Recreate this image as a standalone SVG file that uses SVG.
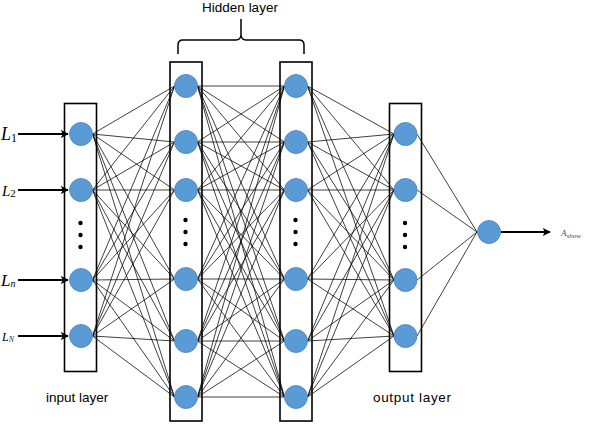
<svg xmlns="http://www.w3.org/2000/svg" width="590" height="424" viewBox="0 0 590 424">
<style>
.c{stroke:#000;stroke-width:0.75;fill:none}
.layer{fill:none;stroke:#000;stroke-width:1.6}
.n{fill:#5B9BD5;stroke:#4A83B8;stroke-width:0.8}
.dot{fill:#000}
.arr{stroke:#000;stroke-width:2;fill:none;marker-end:url(#ah)}
.lbl{font-family:"Liberation Sans",Arial,sans-serif;font-size:13.5px;fill:#000}
.L{font-family:"Liberation Serif","Times New Roman",serif;font-style:italic;fill:#000}
.sub{font-family:"Liberation Serif","Times New Roman",serif;fill:#000}
</style>
<defs>
<marker id="ah" viewBox="0 0 10 10" refX="9" refY="5" markerWidth="4" markerHeight="4" orient="auto" markerUnits="strokeWidth">
<path d="M0,0 L10,5 L0,10 L2.5,5 Z" fill="#000"/>
</marker>
</defs>
<rect width="590" height="424" fill="#fff"/>

<g id="connectors">
<g id="in-h1">
<line class="c" x1="92.5" y1="134" x2="174.5" y2="86"/><line class="c" x1="92.5" y1="134" x2="174.5" y2="142"/><line class="c" x1="92.5" y1="134" x2="174.5" y2="190"/><line class="c" x1="92.5" y1="134" x2="174.5" y2="279"/><line class="c" x1="92.5" y1="134" x2="174.5" y2="341"/><line class="c" x1="92.5" y1="134" x2="174.5" y2="397"/>
<line class="c" x1="92.5" y1="190" x2="174.5" y2="86"/><line class="c" x1="92.5" y1="190" x2="174.5" y2="142"/><line class="c" x1="92.5" y1="190" x2="174.5" y2="190"/><line class="c" x1="92.5" y1="190" x2="174.5" y2="279"/><line class="c" x1="92.5" y1="190" x2="174.5" y2="341"/><line class="c" x1="92.5" y1="190" x2="174.5" y2="397"/>
<line class="c" x1="92.5" y1="280" x2="174.5" y2="86"/><line class="c" x1="92.5" y1="280" x2="174.5" y2="142"/><line class="c" x1="92.5" y1="280" x2="174.5" y2="190"/><line class="c" x1="92.5" y1="280" x2="174.5" y2="279"/><line class="c" x1="92.5" y1="280" x2="174.5" y2="341"/><line class="c" x1="92.5" y1="280" x2="174.5" y2="397"/>
<line class="c" x1="92.5" y1="336" x2="174.5" y2="86"/><line class="c" x1="92.5" y1="336" x2="174.5" y2="142"/><line class="c" x1="92.5" y1="336" x2="174.5" y2="190"/><line class="c" x1="92.5" y1="336" x2="174.5" y2="279"/><line class="c" x1="92.5" y1="336" x2="174.5" y2="341"/><line class="c" x1="92.5" y1="336" x2="174.5" y2="397"/>
</g>
<g id="h1-h2">
<line class="c" x1="197.5" y1="86" x2="284.5" y2="86"/><line class="c" x1="197.5" y1="86" x2="284.5" y2="142"/><line class="c" x1="197.5" y1="86" x2="284.5" y2="190"/><line class="c" x1="197.5" y1="86" x2="284.5" y2="279"/><line class="c" x1="197.5" y1="86" x2="284.5" y2="341"/><line class="c" x1="197.5" y1="86" x2="284.5" y2="397"/>
<line class="c" x1="197.5" y1="142" x2="284.5" y2="86"/><line class="c" x1="197.5" y1="142" x2="284.5" y2="142"/><line class="c" x1="197.5" y1="142" x2="284.5" y2="190"/><line class="c" x1="197.5" y1="142" x2="284.5" y2="279"/><line class="c" x1="197.5" y1="142" x2="284.5" y2="341"/><line class="c" x1="197.5" y1="142" x2="284.5" y2="397"/>
<line class="c" x1="197.5" y1="190" x2="284.5" y2="86"/><line class="c" x1="197.5" y1="190" x2="284.5" y2="142"/><line class="c" x1="197.5" y1="190" x2="284.5" y2="190"/><line class="c" x1="197.5" y1="190" x2="284.5" y2="279"/><line class="c" x1="197.5" y1="190" x2="284.5" y2="341"/><line class="c" x1="197.5" y1="190" x2="284.5" y2="397"/>
<line class="c" x1="197.5" y1="279" x2="284.5" y2="86"/><line class="c" x1="197.5" y1="279" x2="284.5" y2="142"/><line class="c" x1="197.5" y1="279" x2="284.5" y2="190"/><line class="c" x1="197.5" y1="279" x2="284.5" y2="279"/><line class="c" x1="197.5" y1="279" x2="284.5" y2="341"/><line class="c" x1="197.5" y1="279" x2="284.5" y2="397"/>
<line class="c" x1="197.5" y1="341" x2="284.5" y2="86"/><line class="c" x1="197.5" y1="341" x2="284.5" y2="142"/><line class="c" x1="197.5" y1="341" x2="284.5" y2="190"/><line class="c" x1="197.5" y1="341" x2="284.5" y2="279"/><line class="c" x1="197.5" y1="341" x2="284.5" y2="341"/><line class="c" x1="197.5" y1="341" x2="284.5" y2="397"/>
<line class="c" x1="197.5" y1="397" x2="284.5" y2="86"/><line class="c" x1="197.5" y1="397" x2="284.5" y2="142"/><line class="c" x1="197.5" y1="397" x2="284.5" y2="190"/><line class="c" x1="197.5" y1="397" x2="284.5" y2="279"/><line class="c" x1="197.5" y1="397" x2="284.5" y2="341"/><line class="c" x1="197.5" y1="397" x2="284.5" y2="397"/>
</g>
<g id="h2-out">
<line class="c" x1="307.5" y1="86" x2="394" y2="134"/><line class="c" x1="307.5" y1="86" x2="394" y2="190"/><line class="c" x1="307.5" y1="86" x2="394" y2="280"/><line class="c" x1="307.5" y1="86" x2="394" y2="336"/>
<line class="c" x1="307.5" y1="142" x2="394" y2="134"/><line class="c" x1="307.5" y1="142" x2="394" y2="190"/><line class="c" x1="307.5" y1="142" x2="394" y2="280"/><line class="c" x1="307.5" y1="142" x2="394" y2="336"/>
<line class="c" x1="307.5" y1="190" x2="394" y2="134"/><line class="c" x1="307.5" y1="190" x2="394" y2="190"/><line class="c" x1="307.5" y1="190" x2="394" y2="280"/><line class="c" x1="307.5" y1="190" x2="394" y2="336"/>
<line class="c" x1="307.5" y1="279" x2="394" y2="134"/><line class="c" x1="307.5" y1="279" x2="394" y2="190"/><line class="c" x1="307.5" y1="279" x2="394" y2="280"/><line class="c" x1="307.5" y1="279" x2="394" y2="336"/>
<line class="c" x1="307.5" y1="341" x2="394" y2="134"/><line class="c" x1="307.5" y1="341" x2="394" y2="190"/><line class="c" x1="307.5" y1="341" x2="394" y2="280"/><line class="c" x1="307.5" y1="341" x2="394" y2="336"/>
<line class="c" x1="307.5" y1="397" x2="394" y2="134"/><line class="c" x1="307.5" y1="397" x2="394" y2="190"/><line class="c" x1="307.5" y1="397" x2="394" y2="280"/><line class="c" x1="307.5" y1="397" x2="394" y2="336"/>
</g>
<g id="out-final">
<line class="c" x1="417" y1="134" x2="477" y2="232"/><line class="c" x1="417" y1="190" x2="477" y2="232"/><line class="c" x1="417" y1="280" x2="477" y2="232"/><line class="c" x1="417" y1="336" x2="477" y2="232"/>
</g>
<g id="io-arrows">
<line class="arr" x1="18" y1="134" x2="68" y2="134"/>
<line class="arr" x1="18" y1="190" x2="68" y2="190"/>
<line class="arr" x1="18" y1="280" x2="68" y2="280"/>
<line class="arr" x1="18" y1="336" x2="68" y2="336"/>
<line class="arr" x1="501" y1="232" x2="550" y2="232"/>
</g>
</g>

<g id="input-layer">
<rect class="layer" x="64.5" y="103.5" width="32" height="268"/>
<circle class="n" cx="81" cy="134" r="11.5"/>
<circle class="n" cx="81" cy="190" r="11.5"/>
<circle class="dot" cx="80.5" cy="223" r="2.2"/>
<circle class="dot" cx="80.5" cy="235" r="2.2"/>
<circle class="dot" cx="80.5" cy="247" r="2.2"/>
<circle class="n" cx="81" cy="280" r="11.5"/>
<circle class="n" cx="81" cy="336" r="11.5"/>
<text class="lbl" x="46" y="402">input layer</text>
</g>

<g id="hidden-layer-1">
<rect class="layer" x="170" y="62" width="32" height="359"/>
<circle class="n" cx="186" cy="86" r="11.5"/>
<circle class="n" cx="186" cy="142" r="11.5"/>
<circle class="n" cx="186" cy="190" r="11.5"/>
<circle class="dot" cx="185.5" cy="220" r="2.2"/>
<circle class="dot" cx="185.5" cy="232" r="2.2"/>
<circle class="dot" cx="185.5" cy="244" r="2.2"/>
<circle class="n" cx="186" cy="279" r="11.5"/>
<circle class="n" cx="186" cy="341" r="11.5"/>
<circle class="n" cx="186" cy="397" r="11.5"/>
</g>

<g id="hidden-layer-2">
<rect class="layer" x="280" y="62" width="32" height="359"/>
<circle class="n" cx="296" cy="86" r="11.5"/>
<circle class="n" cx="296" cy="142" r="11.5"/>
<circle class="n" cx="296" cy="190" r="11.5"/>
<circle class="dot" cx="295.5" cy="220" r="2.2"/>
<circle class="dot" cx="295.5" cy="232" r="2.2"/>
<circle class="dot" cx="295.5" cy="244" r="2.2"/>
<circle class="n" cx="296" cy="279" r="11.5"/>
<circle class="n" cx="296" cy="341" r="11.5"/>
<circle class="n" cx="296" cy="397" r="11.5"/>
</g>

<g id="hidden-label">
<path d="M178,54 V45 Q178,40 183,40 H236 Q240.5,40 241,35 Q241.5,40 246,40 H299 Q304,40 304,45 V54 M241,35 V19" fill="none" stroke="#000" stroke-width="1.5"/>
<text class="lbl" x="240" y="12" text-anchor="middle">Hidden layer</text>
</g>

<g id="output-layer">
<rect class="layer" x="389.5" y="103.5" width="32" height="268"/>
<circle class="n" cx="405.5" cy="134" r="11.5"/>
<circle class="n" cx="405.5" cy="190" r="11.5"/>
<circle class="dot" cx="405" cy="223" r="2.2"/>
<circle class="dot" cx="405" cy="235" r="2.2"/>
<circle class="dot" cx="405" cy="247" r="2.2"/>
<circle class="n" cx="405.5" cy="280" r="11.5"/>
<circle class="n" cx="405.5" cy="336" r="11.5"/>
<text class="lbl" x="373" y="402" textLength="78">output layer</text>
</g>

<g id="final-node">
<circle class="n" cx="489" cy="232" r="11.5"/>
<text x="561" y="236" style="font-family:'Liberation Serif',serif;font-size:9px;font-style:italic;fill:#444">A<tspan font-size="7" dy="1.5">show</tspan></text>
</g>

<g id="input-labels">
<text class="L" x="1" y="140" font-size="18">L<tspan class="sub" font-style="normal" font-size="12" dy="2">1</tspan></text>
<text class="L" x="2" y="196" font-size="15" fill="#333">L<tspan class="sub" font-style="normal" font-size="11" dy="1" fill="#333">2</tspan></text>
<text class="L" x="1" y="286" font-size="17">L<tspan font-size="10" dy="1">n</tspan></text>
<text class="L" x="2" y="341" font-size="12" fill="#333">L<tspan font-size="8" dy="1" fill="#333">N</tspan></text>
</g>
</svg>
